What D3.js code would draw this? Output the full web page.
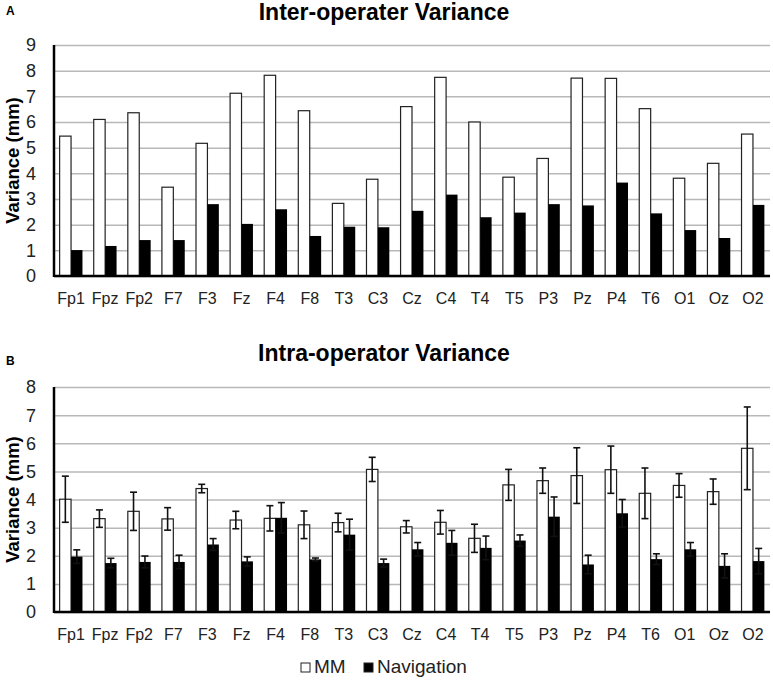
<!DOCTYPE html>
<html>
<head>
<meta charset="utf-8">
<script src="https://cdn.jsdelivr.net/npm/d3@7"></script>
<style>
  body { margin: 0; background: #fff; }
  svg { display: block; font-family: "Liberation Sans", Arial, sans-serif; }
</style>
</head>
<body>
<svg id="chart" width="773" height="681"></svg>
<script>
var categories = ['Fp1','Fpz','Fp2','F7','F3','Fz','F4','F8','T3','C3','Cz','C4','T4','T5','P3','Pz','P4','T6','O1','Oz','O2'];
var seriesNames = ['MM', 'Navigation'];

// panel A: inter-operator variance
var interMM  = [5.45, 6.1, 6.36, 3.46, 5.17, 7.12, 7.82, 6.44, 2.83, 3.77, 6.6, 7.74, 6.0, 3.85, 4.58, 7.71, 7.7, 6.52, 3.81, 4.39, 5.53];
var interNav = [1.01, 1.17, 1.4, 1.4, 2.8, 2.03, 2.6, 1.56, 1.92, 1.9, 2.54, 3.17, 2.29, 2.47, 2.8, 2.75, 3.64, 2.44, 1.79, 1.48, 2.77];

// panel B: intra-operator variance with error
var intraMM     = [4.01, 3.32, 3.58, 3.31, 4.39, 3.27, 3.33, 3.1, 3.18, 5.07, 3.03, 3.19, 2.62, 4.52, 4.67, 4.85, 5.06, 4.22, 4.5, 4.28, 5.82];
var intraMMErr  = [0.82, 0.31, 0.68, 0.4, 0.15, 0.31, 0.45, 0.49, 0.33, 0.43, 0.22, 0.42, 0.5, 0.55, 0.45, 0.99, 0.84, 0.9, 0.42, 0.45, 1.47];
var intraNav    = [1.97, 1.74, 1.78, 1.78, 2.4, 1.8, 3.35, 1.87, 2.75, 1.74, 2.23, 2.46, 2.28, 2.54, 3.39, 1.69, 3.51, 1.88, 2.23, 1.64, 1.81];
var intraNavErr = [0.24, 0.17, 0.21, 0.24, 0.21, 0.16, 0.54, 0.05, 0.55, 0.14, 0.24, 0.44, 0.42, 0.2, 0.7, 0.33, 0.49, 0.19, 0.24, 0.43, 0.45];

var svg = d3.select('#chart');
var left = 54, right = 770;

var x = d3.scaleBand()
  .domain(categories)
  .range([left, right])
  .paddingInner(0.33)
  .paddingOuter(0.165);

var xs = d3.scaleBand()
  .domain(seriesNames)
  .range([0, x.bandwidth()]);

function drawPanel(opt) {
  var y = d3.scaleLinear().domain([0, opt.max]).range([opt.bottom, opt.top]);
  var g = svg.append('g');

  // gridlines
  g.append('g')
    .attr('transform', 'translate(' + left + ',0)')
    .call(d3.axisLeft(y).ticks(opt.max).tickSize(-(right - left)).tickFormat(''))
    .call(function(a) {
      a.select('.domain').remove();
      a.selectAll('line').attr('stroke', '#b8b8b8').attr('stroke-width', 1.5);
    });

  // tick labels
  g.selectAll('.ylab')
    .data(y.ticks(opt.max))
    .enter()
    .append('text')
    .attr('x', 36)
    .attr('y', function(d) { return y(d); })
    .attr('dy', '0.36em')
    .attr('text-anchor', 'end')
    .attr('font-size', 18)
    .attr('fill', '#222')
    .text(function(d) { return d; });

  var groups = g.selectAll('.grp')
    .data(categories)
    .enter()
    .append('g')
    .attr('transform', function(d) { return 'translate(' + x(d) + ',0)'; });

  groups.append('rect')
    .attr('x', xs('MM'))
    .attr('width', xs.bandwidth())
    .attr('y', function(d, i) { return y(opt.mm[i]); })
    .attr('height', function(d, i) { return y(0) - y(opt.mm[i]); })
    .attr('fill', '#fff')
    .attr('stroke', '#222')
    .attr('stroke-width', 1.2);

  groups.append('rect')
    .attr('x', xs('Navigation'))
    .attr('width', xs.bandwidth())
    .attr('y', function(d, i) { return y(opt.nav[i]); })
    .attr('height', function(d, i) { return y(0) - y(opt.nav[i]); })
    .attr('fill', '#000');

  if (opt.mmErr) {
    var sets = [[xs('MM'), opt.mm, opt.mmErr], [xs('Navigation'), opt.nav, opt.navErr]];
    sets.forEach(function(s) {
      var cx = s[0] + xs.bandwidth() / 2;
      groups.each(function(d, i) {
        var e = d3.select(this).append('g').attr('stroke', '#111').attr('stroke-width', 1.6);
        var hi = y(s[1][i] + s[2][i]), lo = y(s[1][i] - s[2][i]);
        e.append('line').attr('x1', cx).attr('x2', cx).attr('y1', hi).attr('y2', lo);
        e.append('line').attr('x1', cx - 3.5).attr('x2', cx + 3.5).attr('y1', hi).attr('y2', hi);
        e.append('line').attr('x1', cx - 3.5).attr('x2', cx + 3.5).attr('y1', lo).attr('y2', lo);
      });
    });
  }

  // axes lines
  g.append('line')
    .attr('x1', left).attr('x2', left)
    .attr('y1', opt.top).attr('y2', opt.bottom + 1)
    .attr('stroke', '#000').attr('stroke-width', 2.5);
  g.append('line')
    .attr('x1', left).attr('x2', right)
    .attr('y1', opt.bottom).attr('y2', opt.bottom)
    .attr('stroke', '#000').attr('stroke-width', 2.5);

  // category labels
  g.selectAll('.xlab')
    .data(categories)
    .enter()
    .append('text')
    .attr('x', function(d) { return x(d) + x.bandwidth() / 2; })
    .attr('y', opt.bottom + 28)
    .attr('text-anchor', 'middle')
    .attr('font-size', 16)
    .attr('fill', '#222')
    .text(function(d) { return d; });

  // titles
  g.append('text')
    .attr('x', 384).attr('y', opt.titleY)
    .attr('text-anchor', 'middle')
    .attr('font-size', 23).attr('font-weight', 'bold')
    .text(opt.title);

  g.append('text')
    .attr('x', 6).attr('y', opt.letterY)
    .attr('font-size', 12).attr('font-weight', 'bold')
    .text(opt.letter);

  g.append('text')
    .attr('transform', 'translate(19,' + ((opt.top + opt.bottom) / 2) + ') rotate(-90)')
    .attr('text-anchor', 'middle')
    .attr('font-size', 18.5).attr('font-weight', 'bold')
    .text('Variance (mm)');
}

drawPanel({ max: 9, top: 45, bottom: 276, mm: interMM, nav: interNav,
  title: 'Inter-operater Variance', titleY: 20, letter: 'A', letterY: 15 });

drawPanel({ max: 8, top: 387, bottom: 612, mm: intraMM, nav: intraNav,
  mmErr: intraMMErr, navErr: intraNavErr,
  title: 'Intra-operator Variance', titleY: 361, letter: 'B', letterY: 365 });

// legend
var legend = svg.append('g').attr('transform', 'translate(301,673)');
var legX = [0, 63];
seriesNames.forEach(function(name, i) {
  legend.append('rect')
    .attr('x', legX[i]).attr('y', -10)
    .attr('width', 9).attr('height', 9)
    .attr('fill', i === 0 ? '#fff' : '#000')
    .attr('stroke', '#222').attr('stroke-width', 1);
  legend.append('text')
    .attr('x', legX[i] + 13).attr('y', 0)
    .attr('font-size', 19).attr('fill', '#222')
    .text(name);
});
</script>
</body>
</html>
